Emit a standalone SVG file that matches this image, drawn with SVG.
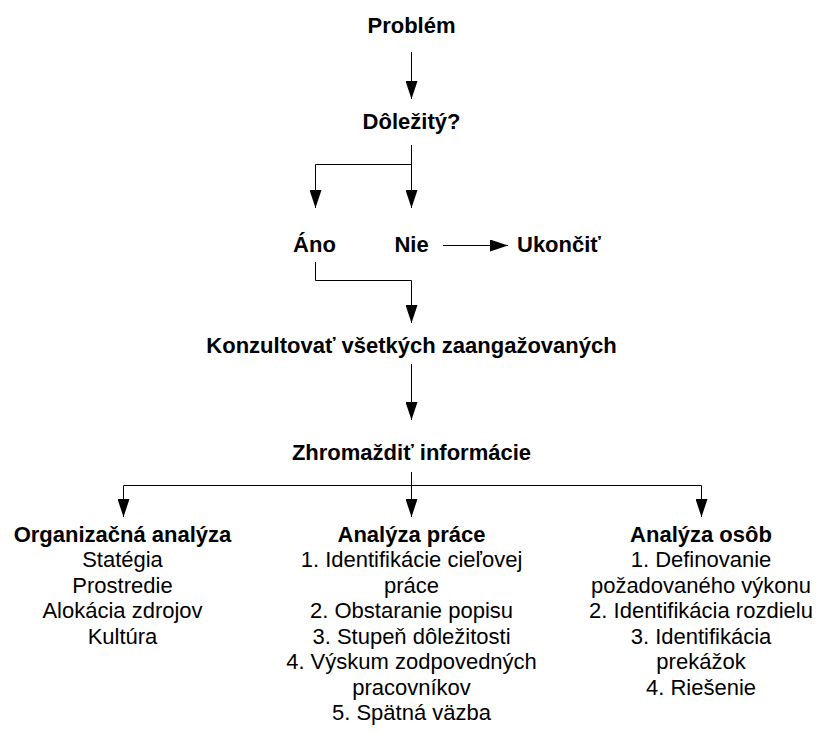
<svg xmlns="http://www.w3.org/2000/svg" width="819" height="733" viewBox="0 0 819 733">
<style>
text{font-family:"Liberation Sans",Arial,sans-serif;font-size:22px;fill:#000;text-anchor:middle}
.b{font-weight:bold}
.c{fill:none;stroke:#000;stroke-width:1}
</style>
<defs>
<marker id="ah" markerUnits="userSpaceOnUse" markerWidth="18" markerHeight="12" refX="18" refY="6" orient="auto">
<path d="M0,0 L18,6 L0,12 Z" fill="#000"/>
</marker>
</defs>
<rect width="819" height="733" fill="#fff"/>
<g id="connectors">
<path class="c" d="M411.5,52 V99" marker-end="url(#ah)"/>
<path class="c" d="M411.5,145 V208"  marker-end="url(#ah)"/>
<path class="c" d="M411.5,164.5 H315.5 V208" marker-end="url(#ah)"/>
<path class="c" d="M443,245.5 H508" marker-end="url(#ah)"/>
<path class="c" d="M315.5,262 V280.5 H411.5 V323" marker-end="url(#ah)"/>
<path class="c" d="M411.5,364 V420" marker-end="url(#ah)"/>
<path class="c" d="M411.5,472 V517" marker-end="url(#ah)"/>
<path class="c" d="M411.5,485.5 H123.5 V517" marker-end="url(#ah)"/>
<path class="c" d="M411.5,485.5 H701.5 V517" marker-end="url(#ah)"/>
</g>
<g id="problem"><text class="b" x="411.5" y="33">Problém</text></g>
<g id="dolezity"><text class="b" x="411.5" y="129">Dôležitý?</text></g>
<g id="ano"><text class="b" x="314.5" y="252">Áno</text></g>
<g id="nie"><text class="b" x="411.5" y="252">Nie</text></g>
<g id="ukoncit"><text class="b" x="517" y="252" style="text-anchor:start">Ukončiť</text></g>
<g id="konzultovat"><text class="b" x="411.5" y="353">Konzultovať všetkých zaangažovaných</text></g>
<g id="zhromazdit"><text class="b" x="411.5" y="460">Zhromaždiť informácie</text></g>
<g id="organizacna">
<text class="b" x="122.5" y="541.5">Organizačná analýza</text>
<text x="122.5" y="567">Statégia</text>
<text x="122.5" y="592.5">Prostredie</text>
<text x="122.5" y="618">Alokácia zdrojov</text>
<text x="122.5" y="643.5">Kultúra</text>
</g>
<g id="praca">
<text class="b" x="411.5" y="541.5">Analýza práce</text>
<text x="411.5" y="567">1. Identifikácie cieľovej</text>
<text x="411.5" y="592.5">práce</text>
<text x="411.5" y="618">2. Obstaranie popisu</text>
<text x="411.5" y="643.5">3. Stupeň dôležitosti</text>
<text x="411.5" y="669">4. Výskum zodpovedných</text>
<text x="411.5" y="694.5">pracovníkov</text>
<text x="411.5" y="720">5. Spätná väzba</text>
</g>
<g id="osoby">
<text class="b" x="701" y="541.5">Analýza osôb</text>
<text x="701" y="567">1. Definovanie</text>
<text x="701" y="592.5">požadovaného výkonu</text>
<text x="701" y="618">2. Identifikácia rozdielu</text>
<text x="701" y="643.5">3. Identifikácia</text>
<text x="701" y="669">prekážok</text>
<text x="701" y="694.5">4. Riešenie</text>
</g>
</svg>
